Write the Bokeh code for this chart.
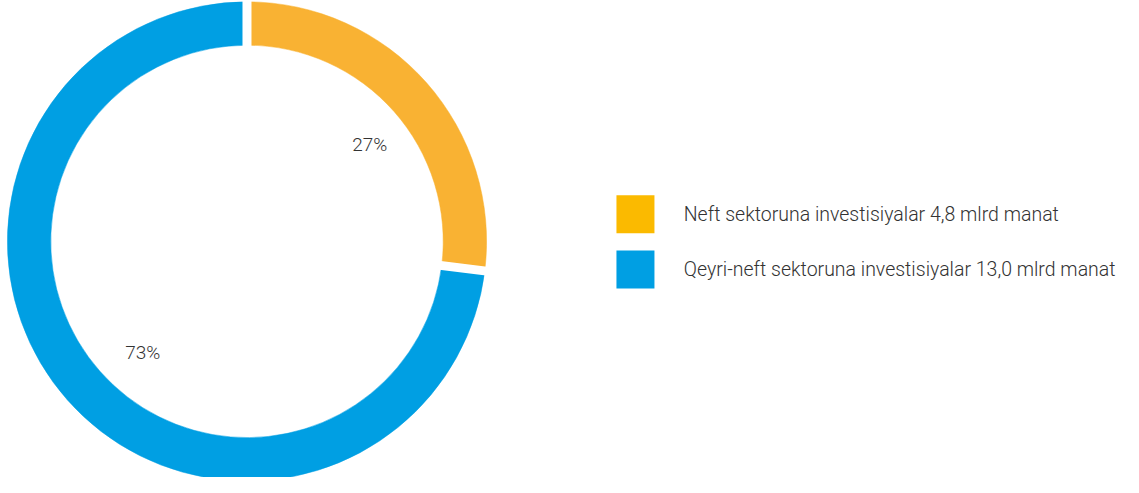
import numpy as np
from bokeh.plotting import figure
from bokeh.models import Range1d, ColumnDataSource
from bokeh.core.properties import value
from bokeh.embed import file_html
from bokeh.resources import INLINE

# ---- data ----
categories = ["Neft sektoruna investisiyalar 4,8 mlrd manat",
              "Qeyri-neft sektoruna investisiyalar 13,0 mlrd manat"]
values = [4.8, 13.0]
pct_labels = ["27%", "73%"]
slice_colors = ["#F9B233", "#009FE3"]
legend_colors = ["#FBBA00", "#009FE3"]

# ---- layout (data units = reference pixels, y upward) ----
W, H = 1123, 477
RW, RH = 1139, 493
cx, cy = 250, RH - 249
r_out, r_in = 243, 199
gap = 9
font = "'Roboto Light', Roboto"
text_color = "#333333"

p = figure(width=W, height=H, output_backend="svg", toolbar_location=None,
           x_range=Range1d(0, RW), y_range=Range1d(0, RH),
           x_axis_type=None, y_axis_type=None, min_border=0,
           outline_line_color=None, background_fill_color="white",
           border_fill_color="white")
p.grid.visible = False

vals = np.array(values, dtype=float)
frac = vals / vals.sum()
# start at top (90 deg), go clockwise
cum = np.concatenate([[0.0], np.cumsum(frac)])
ang_a = np.pi / 2 - cum[:-1] * 2 * np.pi   # start (upper) angle
ang_b = np.pi / 2 - cum[1:] * 2 * np.pi    # end (lower) angle

src = ColumnDataSource(dict(start=ang_b, end=ang_a, color=slice_colors))
p.annular_wedge(x=cx, y=cy, inner_radius=r_in, outer_radius=r_out,
                start_angle="start", end_angle="end", direction="anticlock",
                fill_color="color", line_color="color", line_width=0.5, source=src)

# white separators between slices (constant width gaps)
p.ray(x=cx, y=cy, length=r_out + 10, angle=ang_a, line_color="white",
      line_width=gap)

# percentage labels
mid = (ang_a + ang_b) / 2
lr = 160
lsrc = ColumnDataSource(dict(x=cx + lr * np.cos(mid), y=cy + lr * np.sin(mid),
                             t=pct_labels, xo=[4.5, 14], yo=[5.5, 9]))
p.text(x="x", y="y", text="t", x_offset="xo", y_offset="yo", source=lsrc,
       text_font=value(font), text_font_size="19px", text_color=text_color,
       text_align="center", text_baseline="middle")

# legend
lx, ly, step = 644, RH - 221, 57
ys = [ly - i * step for i in range(len(categories))]
p.rect(x=[lx] * len(categories), y=ys, width=38, height=38,
       width_units="screen", height_units="screen",
       fill_color=legend_colors, line_color=None)
p.text(x=[lx + 49] * len(categories), y=ys, text=categories,
       text_font=value(font), text_font_size="19.5px", text_color=text_color,
       text_align="left", text_baseline="middle")

open("out.html", "w").write(file_html(p, INLINE))
